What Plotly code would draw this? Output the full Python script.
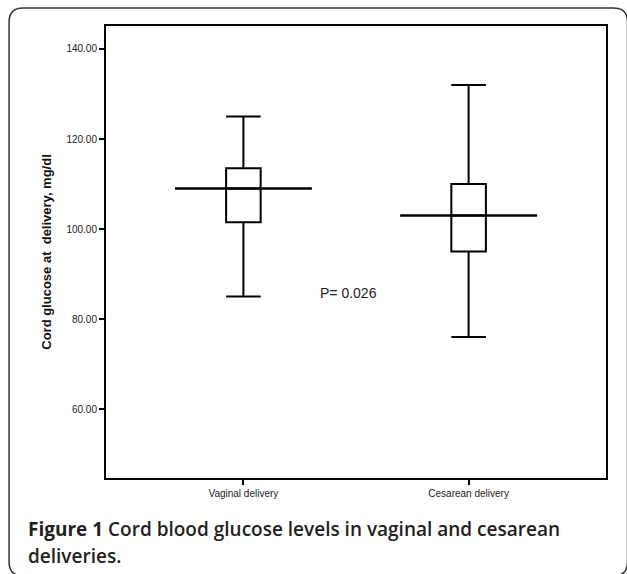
import plotly.graph_objects as go

# ---- data ----
categories = ["Vaginal delivery", "Cesarean delivery"]
lower_whisker = [85.0, 76.0]
q1_values = [101.5, 95.0]
median_values = [109.0, 103.0]
q3_values = [113.5, 110.0]
upper_whisker = [125.0, 132.0]
y_tick_values = [60, 80, 100, 120, 140]
p_label = "P= 0.026"
y_title = "Cord glucose at  delivery, mg/dl"
caption_bold = "Figure 1"
caption_rest = " Cord blood glucose levels in vaginal and cesarean"
caption_line2 = "deliveries."

# ---- layout geometry (pixels) ----
W, H = 627, 574
L, R, T, B = 106, 606.5, 26, 478

def px(x):
    return (x - L) / (R - L)

def py(y):
    return (B - y) / (B - T)

xpos = list(range(len(categories)))
box_width = 0.1534
median_half = 0.304

fig = go.Figure()

fig.add_trace(go.Box(
    x=xpos,
    q1=q1_values,
    median=median_values,
    q3=q3_values,
    lowerfence=lower_whisker,
    upperfence=upper_whisker,
    width=box_width,
    whiskerwidth=1.0,
    fillcolor="white",
    line=dict(color="black", width=2),
    boxpoints=False,
    showlegend=False,
    hoverinfo="skip",
))

mx, my = [], []
for i, m in zip(xpos, median_values):
    mx += [i - median_half, i + median_half, None]
    my += [m, m, None]
fig.add_trace(go.Scatter(
    x=mx, y=my, mode="lines",
    line=dict(color="black", width=2.6),
    showlegend=False, hoverinfo="skip",
))

# P-value text
fig.add_annotation(
    x=0.468, y=85.9, xref="x", yref="y",
    text=p_label, showarrow=False,
    font=dict(family="Liberation Sans, Arial", size=14, color="#222"),
)

# caption
fig.add_annotation(
    x=px(26), y=py(529), xref="paper", yref="paper",
    xanchor="left", yanchor="middle", showarrow=False,
    text="<b>" + caption_bold + "</b>" + caption_rest,
    font=dict(family="Open Sans", size=19, color="#231f20", weight=600),
)
fig.add_annotation(
    x=px(26), y=py(556), xref="paper", yref="paper",
    xanchor="left", yanchor="middle", showarrow=False,
    text=caption_line2,
    font=dict(family="Open Sans", size=19, color="#231f20", weight=600),
)

# outer rounded frame
x0, y0, x1, y1, r = 9, 8, 628, 576, 14
path = (
    f"M {px(x0)},{py(y0 + r)} "
    f"Q {px(x0)},{py(y0)} {px(x0 + r)},{py(y0)} "
    f"L {px(x1 - r)},{py(y0)} "
    f"Q {px(x1)},{py(y0)} {px(x1)},{py(y0 + r)} "
    f"L {px(x1)},{py(y1 - r)} "
    f"Q {px(x1)},{py(y1)} {px(x1 - r)},{py(y1)} "
    f"L {px(x0 + r)},{py(y1)} "
    f"Q {px(x0)},{py(y1)} {px(x0)},{py(y1 - r)} Z"
)
fig.add_shape(type="path", path=path, xref="paper", yref="paper",
              line=dict(color="#333", width=1.5), layer="below")

fig.update_layout(
    width=W, height=H,
    margin=dict(l=L, r=W - R, t=T, b=H - B, pad=0),
    paper_bgcolor="white", plot_bgcolor="white",
    font=dict(family="Liberation Sans, Arial", color="#222"),
    xaxis=dict(
        range=[-0.61, 1.61],
        tickmode="array", tickvals=xpos, ticktext=categories,
        tickfont=dict(size=10, color="#222"),
        ticks="outside", ticklen=5, tickwidth=1.5, tickcolor="black",
        showline=True, linecolor="black", linewidth=2, mirror=True,
        showgrid=False, zeroline=False, fixedrange=True,
    ),
    yaxis=dict(
        range=[44.7, 145.1],
        tickmode="array", tickvals=y_tick_values,
        tickformat=".2f",
        tickfont=dict(size=10, color="#222"),
        ticks="outside", ticklen=5, tickwidth=1.5, tickcolor="black",
        showline=True, linecolor="black", linewidth=2, mirror=True,
        showgrid=False, zeroline=False, fixedrange=True,
        title=dict(text="<b>" + y_title + "</b>",
                   font=dict(size=13, color="#111"), standoff=12),
    ),
)

fig.write_html(
    "out.html",
    config={"displayModeBar": False},
    post_script="document.body.style.margin='0';document.body.style.overflow='hidden';",
)
